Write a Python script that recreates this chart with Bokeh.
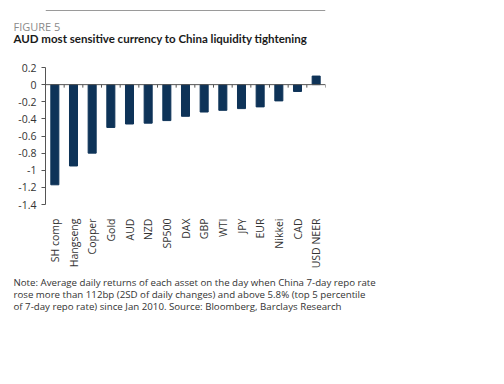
from bokeh.plotting import figure
from bokeh.models import Span, FactorRange, Range1d, Title
from bokeh.layouts import column
from bokeh.embed import file_html
from bokeh.resources import INLINE
from math import pi

categories = ["SH comp", "Hangseng", "Copper", "Gold", "AUD", "NZD", "SP500", "DAX",
              "GBP", "WTI", "JPY", "EUR", "Nikkei", "CAD", "USD NEER"]
values = [-1.17, -0.95, -0.80, -0.50, -0.46, -0.45, -0.42, -0.37,
          -0.32, -0.30, -0.28, -0.26, -0.19, -0.08, 0.10]
y_ticks = [0.2, 0, -0.2, -0.4, -0.6, -0.8, -1, -1.2, -1.4]
y_tick_labels = ["0.2", "0", "-0.2", "-0.4", "-0.6", "-0.8", "-1", "-1.2", "-1.4"]
fig_label = "FIGURE 5"
title_text = "AUD most sensitive currency to China liquidity tightening"
note_lines = [
    "Note: Average daily returns of each asset on the day when China 7-day repo rate",
    "rose more than 112bp (2SD of daily changes) and above 5.8% (top 5 percentile",
    "of 7-day repo rate) since Jan 2010. Source: Bloomberg, Barclays Research",
]

FONT = "Open Sans"
W, H = 488, 368
RULE_H = 12
MH = H - RULE_H
FL, FR, FT, FB = 45, 325, 67 - RULE_H, 204 - RULE_H

# top rule
rule = figure(width=W, height=RULE_H, x_range=Range1d(0, 1), y_range=Range1d(0, RULE_H),
              output_backend="svg", toolbar_location=None,
              min_border_left=12, min_border_right=W - FR, min_border_top=0, min_border_bottom=0)
rule.axis.visible = False
rule.grid.visible = False
rule.outline_line_color = None
rule.add_layout(Span(location=2, dimension="width", line_color="#9a9a9a", line_width=1.2))

p = figure(width=W, height=MH, x_range=FactorRange(*categories, range_padding=0),
           y_range=Range1d(-1.4, 0.2), output_backend="svg", toolbar_location=None,
           min_border_left=FL, min_border_right=W - FR, min_border_top=FT,
           min_border_bottom=MH - FB)
p.outline_line_color = None
p.grid.visible = False

p.vbar(x=categories, top=values, width=0.43, color="#0e3358")

p.add_layout(Span(location=0, dimension="width", line_color="#555555", line_width=1))
bounds = list(range(1, len(categories) + 1))
p.segment(x0=bounds, y0=[0] * len(bounds), x1=bounds, y1=[-0.035] * len(bounds),
          line_color="#555555", line_width=1)

p.yaxis.ticker = y_ticks
p.yaxis.major_label_overrides = dict(zip(y_ticks, y_tick_labels))
p.yaxis.axis_line_color = "#555555"
p.yaxis.major_tick_line_color = "#555555"
p.yaxis.major_tick_out = 4
p.yaxis.major_tick_in = 0
p.yaxis.minor_tick_line_color = None
p.yaxis.major_label_text_font = FONT
p.yaxis.major_label_text_font_size = "10.5px"
p.yaxis.major_label_text_color = "#333333"
p.yaxis.major_label_standoff = 5

p.xaxis.axis_line_color = None
p.xaxis.major_tick_line_color = None
p.xaxis.major_label_orientation = pi / 2
p.xaxis.major_label_text_font = FONT
p.xaxis.major_label_text_font_size = "10.5px"
p.xaxis.major_label_text_color = "#333333"
p.xaxis.major_label_standoff = 8

# above: (nearest frame first) spacer, title, figure number
p.add_layout(Title(text=" ", text_font_size="1px", standoff=22), "above")
p.add_layout(Title(text=title_text, align="left", offset=13 - FL, standoff=-4,
                   text_font="Lato", text_font_size="11.5px", text_color="#1a1a1a",
                   text_font_style="bold"), "above")
p.add_layout(Title(text=fig_label, align="left", offset=13 - FL, standoff=-4,
                   text_font=FONT, text_font_size="11px", text_color="#8a8a8a",
                   text_font_style="normal"), "above")
# below: small spacer, then note lines
p.add_layout(Title(text=" ", text_font_size="1px", standoff=1), "below")
for line in note_lines:
    p.add_layout(Title(text=line, align="left", offset=13 - FL, standoff=-3,
                       text_font=FONT, text_font_size="9.7px", text_color="#333333",
                       text_font_style="normal"), "below")

open("out.html", "w").write(file_html(column(rule, p, spacing=0), INLINE))
